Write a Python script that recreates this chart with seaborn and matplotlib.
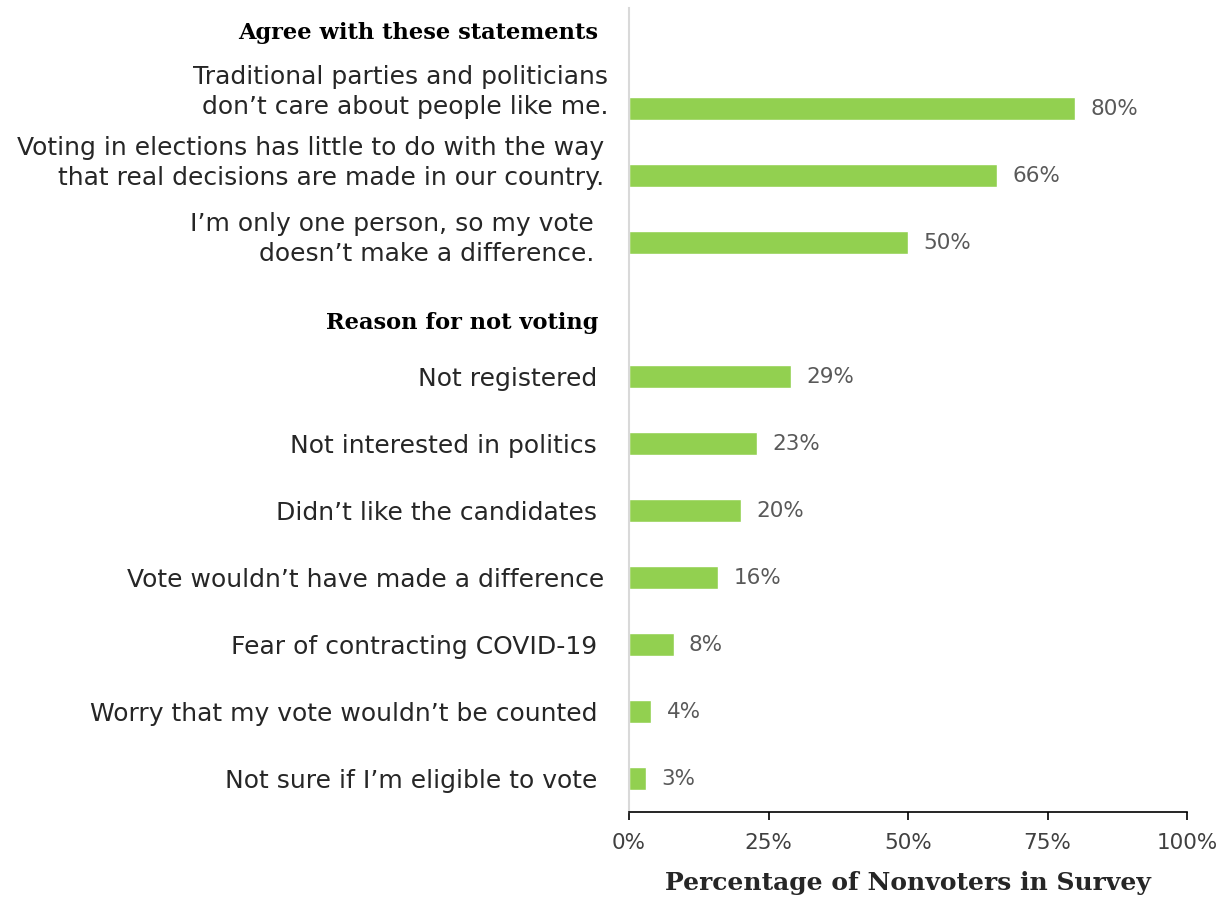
import matplotlib
matplotlib.use("Agg")
import matplotlib.pyplot as plt
import seaborn as sns
import pandas as pd
import numpy as np
from matplotlib.transforms import blended_transform_factory, ScaledTranslation

agree_heading = "Agree with these statements"
agree_labels = [
    "Traditional parties and politicians\ndon\u2019t care about people like me.",
    "Voting in elections has little to do with the way\nthat real decisions are made in our country.",
    "I\u2019m only one person, so my vote\ndoesn\u2019t make a difference.",
]
agree_values = [80, 66, 50]

reason_heading = "Reason for not voting"
reason_labels = [
    "Not registered",
    "Not interested in politics",
    "Didn\u2019t like the candidates",
    "Vote wouldn\u2019t have made a difference",
    "Fear of contracting COVID-19",
    "Worry that my vote wouldn\u2019t be counted",
    "Not sure if I\u2019m eligible to vote",
]
reason_values = [29, 23, 20, 16, 8, 4, 3]

xticks = [0, 25, 50, 75, 100]
xlabel = "Percentage of Nonvoters in Survey"

sns.set_theme(style="white")
plt.rcParams["font.family"] = ["DejaVu Sans"]
SERIF = ["DejaVu Serif"]

keys = ["__h1"] + agree_labels + ["__h2"] + reason_labels
vals = [np.nan] + agree_values + [np.nan] + reason_values
df = pd.DataFrame({"cat": keys, "val": vals})

fig = plt.figure(figsize=(12.27, 8.99), dpi=100)
ax = fig.add_axes([629/1227, 87/899, 558/1227, 804/899])

sns.barplot(data=df, y="cat", x="val", order=keys, orient="h",
            color="#92D050", saturation=1, width=0.35, ax=ax)

ax.set_xlim(0, 100)
ax.set_ylim(11.5, -0.5)
ax.set_xticks(xticks)
ax.set_xticklabels([f"{t}%" for t in xticks], fontsize=15.5, color="#404040")
ax.set_yticks(range(len(keys)))
ax.set_yticklabels(["" if k.startswith("__") else k for k in keys],
                   fontsize=18, color="#262626", ha="right",
                   multialignment="right", linespacing=1.3)
ax.tick_params(axis="y", length=0, pad=23)
ax.tick_params(axis="x", direction="out", length=6, width=1.2, color="black",
               bottom=True, pad=9)
ax.set_xlabel(xlabel, fontsize=18, fontweight="bold", family=SERIF, labelpad=13)
ax.set_ylabel("")

# small per-label nudges (pixels: dx right, dy up) to mimic the reference
nudges = {1: (11, 22), 2: (7, 18), 3: (-3, 9), 8: (7, 0)}
for i, lab in enumerate(ax.get_yticklabels()):
    if i in nudges:
        dx, dy = nudges[i]
        lab.set_transform(lab.get_transform() +
                          ScaledTranslation(dx/100, dy/100, fig.dpi_scale_trans))

for s in ["top", "right"]:
    ax.spines[s].set_visible(False)
ax.spines["left"].set_color("#D9D9D9")
ax.spines["left"].set_linewidth(1.5)
ax.spines["bottom"].set_color("black")
ax.spines["bottom"].set_linewidth(1.2)

for i, (k, v) in enumerate(zip(keys, vals)):
    if not np.isnan(v):
        ax.annotate(f"{int(v)}%", xy=(v, i), xytext=(11, 0),
                    textcoords="offset points", va="center", ha="left",
                    fontsize=15.5, color="#595959")

tr = blended_transform_factory(ax.transAxes, ax.transData) + \
    ScaledTranslation(-31/100, 0, fig.dpi_scale_trans)
ax.text(0, -0.12, agree_heading, transform=tr, ha="right", va="center",
        fontsize=16.2, fontweight="bold", family=SERIF, color="black")
ax.text(0, 4.20, reason_heading, transform=tr, ha="right", va="center",
        fontsize=16.2, fontweight="bold", family=SERIF, color="black")

fig.savefig("out.png", dpi=100, facecolor="white")
